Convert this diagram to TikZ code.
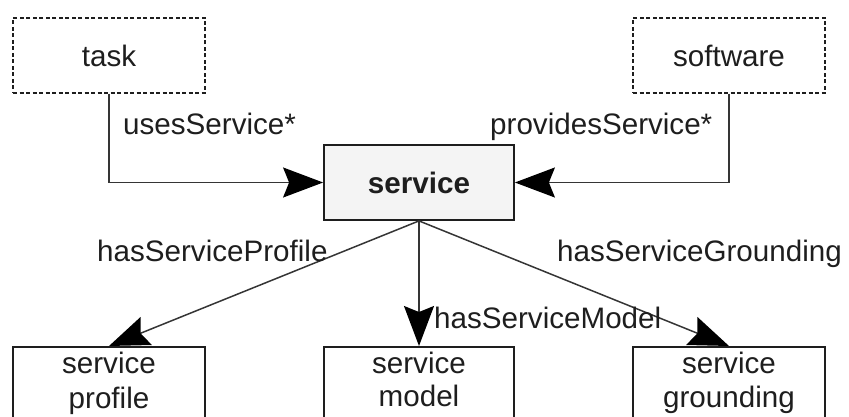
\documentclass[tikz,border=0pt]{standalone}
\usepackage{fontspec}
\setmainfont{Liberation Sans}
\usetikzlibrary{arrows.meta}
\definecolor{ink}{HTML}{1E1E1E}
\definecolor{servfill}{HTML}{F4F4F4}
\begin{document}
\begin{tikzpicture}[x=1pt,y=-1pt,
  every node/.style={font=\fontsize{29.6}{34}\selectfont, text=ink},
  classbox/.style={draw=ink, line width=1.8pt, minimum width=192pt, minimum height=75pt, inner sep=0pt},
  optbox/.style={classbox, dashed, dash pattern=on 4pt off 2.5pt, line width=1.5pt},
  leafbox/.style={draw=ink, line width=1.8pt, fill=white, minimum width=190pt, minimum height=110pt, inner sep=0pt},
  conn/.style={draw=ink!90, line width=1.5pt,
    -{Stealth[length=40pt, width=30pt, inset=6pt, color=black]}},
  lbl/.style={inner sep=0pt, anchor=base west},
  boxtext/.style={inner sep=0pt, anchor=base},
]
\useasboundingbox (0,0) rectangle (849,417);

% top row: dashed source classes
\node[optbox] (task) at (109,55.5) {task};
\node[optbox] (software) at (729,55.5) {software};

% central class
\node[classbox, fill=servfill, minimum width=190pt, font=\fontsize{29.6}{34}\selectfont\bfseries] (service) at (419,182.5) {service};

% bottom row: leaf classes (cut off at the lower edge)
\node[leafbox, minimum width=192pt, anchor=north] (profile) at (109,346) {};
\node[leafbox, anchor=north] (model) at (419,346) {};
\node[leafbox, minimum width=192pt, anchor=north] (grounding) at (729,346) {};

\node[boxtext] (profile-a) at (109,373) {service};
\node[boxtext] (profile-b) at (109,408) {profile};
\node[boxtext] (model-a) at (419,373) {service};
\node[boxtext] (model-b) at (419,406) {model};
\node[boxtext] (grounding-a) at (729,373) {service};
\node[boxtext] (grounding-b) at (729,407) {grounding};

% connectors
\draw[conn] (task.south) |- (service.west);
\draw[conn] (software.south) |- (service.east);
\draw[conn] (service.south) -- (profile.north);
\draw[conn] (service.south) -- (model.north);
\draw[conn] (service.south) -- (grounding.north);

% connector labels
\node[lbl] (uses) at (123,135) {usesService*};
\node[lbl] (provides) at (490,135) {providesService*};
\node[lbl] (hasprofile) at (97,261) {hasServiceProfile};
\node[lbl] (hasgrounding) at (557,261) {hasServiceGrounding};
\node[lbl] (hasmodel) at (434,328) {hasServiceModel};
\end{tikzpicture}
\end{document}
